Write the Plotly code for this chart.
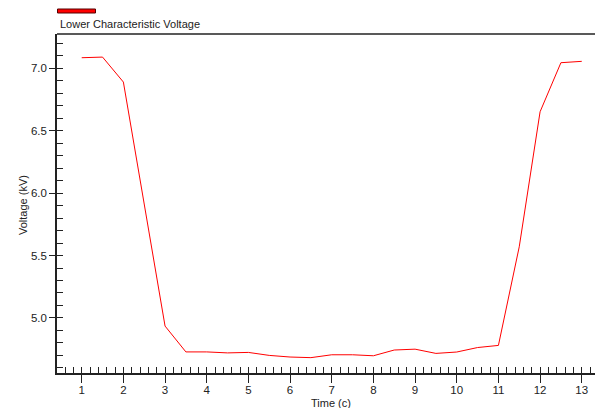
import plotly.graph_objects as go

time_c = [1, 1.5, 2, 2.5, 3, 3.5, 4, 4.5, 5, 5.5, 6, 6.5, 7, 7.5, 8, 8.5, 9, 9.5, 10, 10.5, 11, 11.5, 12, 12.5, 13]
voltage_kv = [7.085, 7.09, 6.89, 5.91, 4.935, 4.728, 4.728, 4.72, 4.724, 4.70, 4.687, 4.682, 4.705, 4.705, 4.697,
              4.743, 4.75, 4.716, 4.727, 4.763, 4.78, 5.57, 6.652, 7.045, 7.056]
series_name = "Lower Characteristic Voltage"
x_title = "Time (c)"
y_title = "Voltage (kV)"

FONT = "Liberation Sans"
TXT = "#222222"
AX = "#222222"

x_range = [0.407, 13.51]
y_range = [4.559, 7.275]

OFF = 8  # default page body margin
PAGE_W, PAGE_H = 603, 408
W, H = PAGE_W - OFF, PAGE_H - OFF
PL, PT, PB_Y, PR_X = 57, 34, 373, 603  # plot area in page pixels
L = PL - OFF
T = PT - OFF
B = H - (PB_Y - OFF)
R = W - (PR_X - OFF)
pw, ph = W - L - R, H - T - B

def px(xp):
    return (xp - PL) / pw

def py(yp):
    return (PB_Y - yp) / ph

fig = go.Figure()
fig.add_trace(go.Scatter(x=time_c, y=voltage_kv, mode="lines", name=series_name,
                         line=dict(color="#ff0000", width=1), showlegend=False))
# invisible trace to anchor overlay axes (inside tick marks)
fig.add_trace(go.Scatter(x=time_c, y=voltage_kv, mode="lines", xaxis="x2", yaxis="y2",
                         line=dict(color="rgba(0,0,0,0)", width=0), showlegend=False, hoverinfo="skip"))

fig.update_layout(
    width=W, height=H,
    margin=dict(l=L, r=R, t=T, b=B, pad=0, autoexpand=False),
    paper_bgcolor="white", plot_bgcolor="white",
    font=dict(family=FONT, size=11, color=TXT),
    xaxis=dict(range=x_range, showgrid=False, zeroline=False, showline=True, linecolor=AX, linewidth=1.5,
               ticks="outside", ticklen=8, tickcolor=AX, tickwidth=1, tick0=0, dtick=1, automargin=False,
               ticklabelstandoff=-3, tickfont=dict(family=FONT, size=11.5, color=TXT)),
    yaxis=dict(range=y_range, showgrid=False, zeroline=False, showline=True, linecolor=AX, linewidth=1.5,
               ticks="outside", ticklen=6, tickcolor=AX, tickwidth=1, tick0=0, dtick=0.5, tickformat=".1f",
               automargin=False, tickfont=dict(family=FONT, size=11.5, color=TXT)),
    xaxis2=dict(range=x_range, overlaying="x", anchor="y", side="bottom", showgrid=False, zeroline=False,
                showline=False, ticks="inside", ticklen=6, tickcolor=AX, tickwidth=1, tick0=0, dtick=0.2,
                showticklabels=False, automargin=False),
    yaxis2=dict(range=y_range, overlaying="y", anchor="x", side="left", showgrid=False, zeroline=False,
                showline=False, ticks="inside", ticklen=6, tickcolor=AX, tickwidth=1, tick0=0, dtick=0.1,
                showticklabels=False, automargin=False),
    showlegend=False,
)

# top border
fig.add_shape(type="line", xref="paper", yref="paper", x0=0, x1=1, y0=1, y1=1,
              line=dict(color=AX, width=1.5))
# legend symbol above legend text
fig.add_shape(type="rect", xref="paper", yref="paper", x0=px(57.5), x1=px(95.5), y0=py(13), y1=py(9),
              fillcolor="#ff0000", line=dict(color="#550000", width=1))
fig.add_annotation(text=series_name, xref="paper", yref="paper", x=px(58), y=py(24),
                   xanchor="left", yanchor="middle", showarrow=False,
                   font=dict(family=FONT, size=11, color=TXT))
# axis titles
fig.add_annotation(text=x_title, xref="paper", yref="paper", x=px(331), y=py(402.5),
                   xanchor="center", yanchor="middle", showarrow=False,
                   font=dict(family=FONT, size=11, color=TXT))
fig.add_annotation(text=y_title, xref="paper", yref="paper", x=px(23), y=py(205),
                   xanchor="center", yanchor="middle", showarrow=False, textangle=-90,
                   font=dict(family=FONT, size=11, color=TXT))

fig.write_html("out.html")
